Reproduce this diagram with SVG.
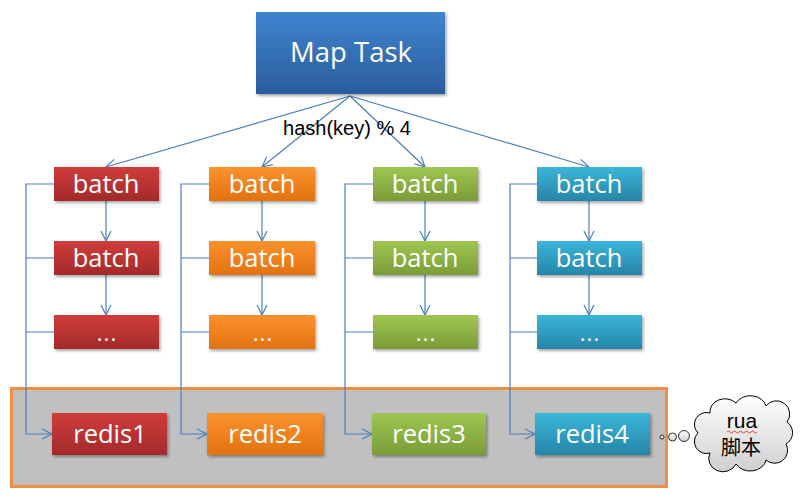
<svg xmlns="http://www.w3.org/2000/svg" width="805" height="497" viewBox="0 0 805 497">
<style>
.box text, text.w { fill:#fff; font-family:"Open Sans","Noto Sans",sans-serif; text-anchor:middle; }
.c { fill:none; stroke:#4a7ebb; stroke-width:1.2; }
.bt { font-size:25.5px; }
.dots { font-size:22px; letter-spacing:1px; }
</style>
<defs>
<linearGradient id="gBlue" x1="0" y1="0" x2="0" y2="1"><stop offset="0" stop-color="#3f84d0"/><stop offset="1" stop-color="#2b5c9c"/></linearGradient>
<linearGradient id="gRed" x1="0" y1="0" x2="0" y2="1"><stop offset="0" stop-color="#d03c3c"/><stop offset="1" stop-color="#a32a2b"/></linearGradient>
<linearGradient id="gOrg" x1="0" y1="0" x2="0" y2="1"><stop offset="0" stop-color="#fb922e"/><stop offset="1" stop-color="#e2720f"/></linearGradient>
<linearGradient id="gGrn" x1="0" y1="0" x2="0" y2="1"><stop offset="0" stop-color="#9fc653"/><stop offset="1" stop-color="#7a9c37"/></linearGradient>
<linearGradient id="gCyn" x1="0" y1="0" x2="0" y2="1"><stop offset="0" stop-color="#3bb5d9"/><stop offset="1" stop-color="#2686a8"/></linearGradient>
<linearGradient id="gCloud" x1="0" y1="0" x2="0" y2="1"><stop offset="0" stop-color="#ffffff"/><stop offset="1" stop-color="#cfcfcf"/></linearGradient>
<filter id="sh" x="-10%" y="-10%" width="125%" height="140%"><feDropShadow dx="1.5" dy="2" stdDeviation="1.5" flood-color="#000" flood-opacity="0.35"/></filter>
<marker id="ar" viewBox="0 0 12 12" refX="11" refY="6" markerWidth="12" markerHeight="12" markerUnits="userSpaceOnUse" orient="auto"><path d="M1,1 L11,6 L1,11" fill="none" stroke="#4a7ebb" stroke-width="1.2"/></marker>
</defs>

<rect id="container" x="11.5" y="388.5" width="655" height="98" fill="#c0c0c0" stroke="#f08f44" stroke-width="3"/>

<g id="connectors">
<path class="c" d="M350,96 L106,167" marker-end="url(#ar)"/>
<path class="c" d="M350,96 L262,167" marker-end="url(#ar)"/>
<path class="c" d="M350,96 L425,167" marker-end="url(#ar)"/>
<path class="c" d="M350,96 L589,167" marker-end="url(#ar)"/>

<path class="c" d="M106,201 V241" marker-end="url(#ar)"/>
<path class="c" d="M106,275 V315" marker-end="url(#ar)"/>
<path class="c" d="M262,201 V241" marker-end="url(#ar)"/>
<path class="c" d="M262,275 V315" marker-end="url(#ar)"/>
<path class="c" d="M425,201 V241" marker-end="url(#ar)"/>
<path class="c" d="M425,275 V315" marker-end="url(#ar)"/>
<path class="c" d="M589,201 V241" marker-end="url(#ar)"/>
<path class="c" d="M589,275 V315" marker-end="url(#ar)"/>

<path class="c" d="M54,184 H26 V434 H52" marker-end="url(#ar)"/>
<path class="c" d="M26,258 H54 M26,332 H54"/>
<path class="c" d="M209,184 H181 V434 H207" marker-end="url(#ar)"/>
<path class="c" d="M181,258 H209 M181,332 H209"/>
<path class="c" d="M373,184 H345 V434 H372" marker-end="url(#ar)"/>
<path class="c" d="M345,258 H373 M345,332 H373"/>
<path class="c" d="M537,184 H510 V434 H535" marker-end="url(#ar)"/>
<path class="c" d="M510,258 H537 M510,332 H537"/>
</g>

<text x="347" y="135" font-family="Liberation Sans,Arial,sans-serif" font-size="20" text-anchor="middle" fill="#000">hash(key) % 4</text>

<g id="maptask" class="box"><rect x="256" y="12" width="189" height="82" fill="url(#gBlue)" filter="url(#sh)"/><text x="351" y="62" font-size="27.5">Map Task</text></g>

<g id="b1a" class="box"><rect x="54" y="167" width="105" height="34" fill="url(#gRed)" filter="url(#sh)"/><text class="bt" x="106" y="193">batch</text></g>
<g id="b1b" class="box"><rect x="54" y="241" width="105" height="34" fill="url(#gRed)" filter="url(#sh)"/><text class="bt" x="106" y="267">batch</text></g>
<g id="b1c" class="box"><rect x="54" y="315" width="105" height="34" fill="url(#gRed)" filter="url(#sh)"/><text class="dots" x="107" y="341">...</text></g>

<g id="b2a" class="box"><rect x="209" y="167" width="106" height="34" fill="url(#gOrg)" filter="url(#sh)"/><text class="bt" x="262" y="193">batch</text></g>
<g id="b2b" class="box"><rect x="209" y="241" width="106" height="34" fill="url(#gOrg)" filter="url(#sh)"/><text class="bt" x="262" y="267">batch</text></g>
<g id="b2c" class="box"><rect x="209" y="315" width="106" height="34" fill="url(#gOrg)" filter="url(#sh)"/><text class="dots" x="263" y="341">...</text></g>

<g id="b3a" class="box"><rect x="373" y="167" width="105" height="34" fill="url(#gGrn)" filter="url(#sh)"/><text class="bt" x="425" y="193">batch</text></g>
<g id="b3b" class="box"><rect x="373" y="241" width="105" height="34" fill="url(#gGrn)" filter="url(#sh)"/><text class="bt" x="425" y="267">batch</text></g>
<g id="b3c" class="box"><rect x="373" y="315" width="105" height="34" fill="url(#gGrn)" filter="url(#sh)"/><text class="dots" x="426" y="341">...</text></g>

<g id="b4a" class="box"><rect x="537" y="167" width="105" height="34" fill="url(#gCyn)" filter="url(#sh)"/><text class="bt" x="589" y="193">batch</text></g>
<g id="b4b" class="box"><rect x="537" y="241" width="105" height="34" fill="url(#gCyn)" filter="url(#sh)"/><text class="bt" x="589" y="267">batch</text></g>
<g id="b4c" class="box"><rect x="537" y="315" width="105" height="34" fill="url(#gCyn)" filter="url(#sh)"/><text class="dots" x="590" y="341">...</text></g>

<g id="redis1" class="box"><rect x="52" y="413" width="115" height="42" fill="url(#gRed)" filter="url(#sh)"/><text class="bt" x="110" y="443">redis1</text></g>
<g id="redis2" class="box"><rect x="207" y="413" width="116" height="42" fill="url(#gOrg)" filter="url(#sh)"/><text class="bt" x="265" y="443">redis2</text></g>
<g id="redis3" class="box"><rect x="372" y="413" width="114" height="42" fill="url(#gGrn)" filter="url(#sh)"/><text class="bt" x="429" y="443">redis3</text></g>
<g id="redis4" class="box"><rect x="535" y="413" width="115" height="42" fill="url(#gCyn)" filter="url(#sh)"/><text class="bt" x="592" y="443">redis4</text></g>

<g id="cloud">
<circle cx="662" cy="437" r="2" fill="url(#gCloud)" stroke="#000" stroke-width="0.8"/>
<circle cx="672.5" cy="437" r="4" fill="url(#gCloud)" stroke="#000" stroke-width="0.8"/>
<circle cx="684" cy="436" r="5.5" fill="url(#gCloud)" stroke="#000" stroke-width="0.8"/>
<path d="M698,433 A12,12 0 0 1 710,413 A15,13 0 0 1 736,403 A16,13 0 0 1 766,406 A13,13 0 0 1 787,422 A13,13 0 0 1 786,444 A13,13 0 0 1 766,460 A16,13 0 0 1 736,464 A14,13 0 0 1 710,453 A12,12 0 0 1 698,433 Z" fill="url(#gCloud)" stroke="#000" stroke-width="1"/>
<text x="742" y="428" font-family="Liberation Sans,Arial,sans-serif" font-size="21" text-anchor="middle" fill="#000">rua</text>
<path d="M727,432 q1.5,-2 3,0 t3,0 t3,0 t3,0 t3,0 t3,0 t3,0 t3,0 t3,0 t3,0" fill="none" stroke="#e03030" stroke-width="0.9"/>
<text x="741" y="455" font-family="Noto Sans CJK SC,sans-serif" font-size="20" text-anchor="middle" fill="#000">脚本</text>
</g>
</svg>
